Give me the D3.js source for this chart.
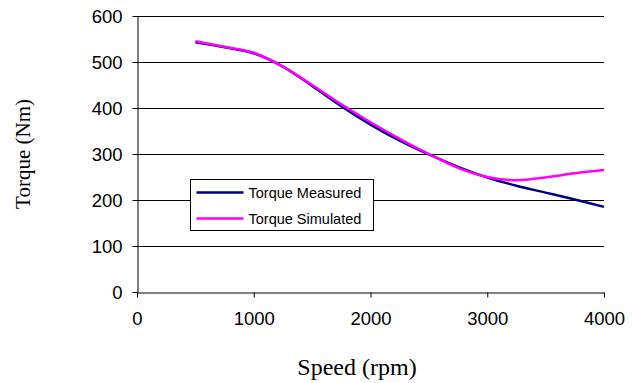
<!DOCTYPE html>
<html>
<head>
<meta charset="utf-8">
<script src="https://cdn.jsdelivr.net/npm/d3@7"></script>
<style>
  body { margin: 0; background: #fff; }
  svg { display: block; }
</style>
</head>
<body>
<svg width="638" height="383"></svg>
<script>
// speed in rpm, torque in Nm
var speed = [500, 750, 1000, 1250, 1500, 1750, 2000, 2250, 2500, 2750, 3000, 3250, 3500, 3750, 4000];
var torqueMeasured  = [543, 532, 519, 490, 448, 404, 364, 329, 299, 272, 249, 231, 216, 201, 185];
var torqueSimulated = [545, 533, 520, 490, 450, 408, 369, 333, 300, 270, 250, 243, 249, 258, 265];
var seriesNames = ["Torque Measured", "Torque Simulated"];
var seriesColors = ["#000080", "#ff00ff"];
var xTicks = [0, 1000, 2000, 3000, 4000];
var yTicks = [0, 100, 200, 300, 400, 500, 600];

var svg = d3.select("svg"),
    margin = {top: 16, right: 34, bottom: 91, left: 137},
    width = svg.attr("width") - margin.left - margin.right,
    height = svg.attr("height") - margin.top - margin.bottom;

var x = d3.scaleLinear().domain([0, 4000]).range([0, width]),
    y = d3.scaleLinear().domain([0, 600]).range([height, 0]);

var g = svg.append("g")
    .attr("transform", "translate(" + margin.left + "," + margin.top + ")");

// horizontal gridlines
g.append("g")
  .selectAll("line")
  .data(yTicks.slice(1))
  .enter().append("line")
    .attr("x1", 0).attr("x2", width)
    .attr("y1", function(d) { return Math.round(y(d)) + 0.5; })
    .attr("y2", function(d) { return Math.round(y(d)) + 0.5; })
    .attr("stroke", "#000")
    .attr("stroke-width", 1);

var xAxis = g.append("g")
    .attr("transform", "translate(0," + (Math.round(height) + 0.5) + ")")
    .call(d3.axisBottom(x).tickValues(xTicks).tickFormat(d3.format("d"))
      .tickSize(5).tickPadding(14).tickSizeOuter(0));

var yAxis = g.append("g")
    .attr("transform", "translate(0.5,0)")
    .call(d3.axisLeft(y).tickValues(yTicks).tickFormat(d3.format("d"))
      .tickSize(5).tickPadding(10).tickSizeOuter(0));

[xAxis, yAxis].forEach(function(a) {
  a.selectAll("text").style("font", "18.5px 'Liberation Sans', Arial, sans-serif").attr("fill", "#000");
  a.selectAll("line, path").attr("stroke", "#000");
});
yAxis.selectAll("text").attr("dy", "0.36em");

var line = d3.line()
    .x(function(d) { return x(d[0]); })
    .y(function(d) { return y(d[1]); })
    .curve(d3.curveCatmullRom.alpha(0.5));

[torqueMeasured, torqueSimulated].forEach(function(vals, i) {
  g.append("path")
    .datum(speed.map(function(s, j) { return [s, vals[j]]; }))
    .attr("fill", "none")
    .attr("stroke", seriesColors[i])
    .attr("stroke-width", 2.5)
    .attr("d", line);
});

// axis titles
svg.append("text")
    .attr("x", 357)
    .attr("y", 375)
    .attr("text-anchor", "middle")
    .style("font", "24px 'Liberation Serif', 'Times New Roman', serif")
    .text("Speed (rpm)");

svg.append("text")
    .attr("transform", "translate(30,154) rotate(-90)")
    .attr("text-anchor", "middle")
    .style("font", "21px 'Liberation Serif', 'Times New Roman', serif")
    .text("Torque (Nm)");

// legend
var legend = svg.append("g").attr("transform", "translate(190.5,179.5)");
legend.append("rect")
    .attr("width", 183).attr("height", 51)
    .attr("fill", "#fff").attr("stroke", "#000").attr("stroke-width", 1);

seriesNames.forEach(function(name, i) {
  var row = legend.append("g").attr("transform", "translate(0," + (13 + i * 26) + ")");
  row.append("line")
    .attr("x1", 6).attr("x2", 53)
    .attr("stroke", seriesColors[i]).attr("stroke-width", 2.5);
  row.append("text")
    .attr("x", 58).attr("dy", "0.35em")
    .style("font", "14.5px 'Liberation Sans', Arial, sans-serif")
    .text(name);
});
</script>
</body>
</html>
